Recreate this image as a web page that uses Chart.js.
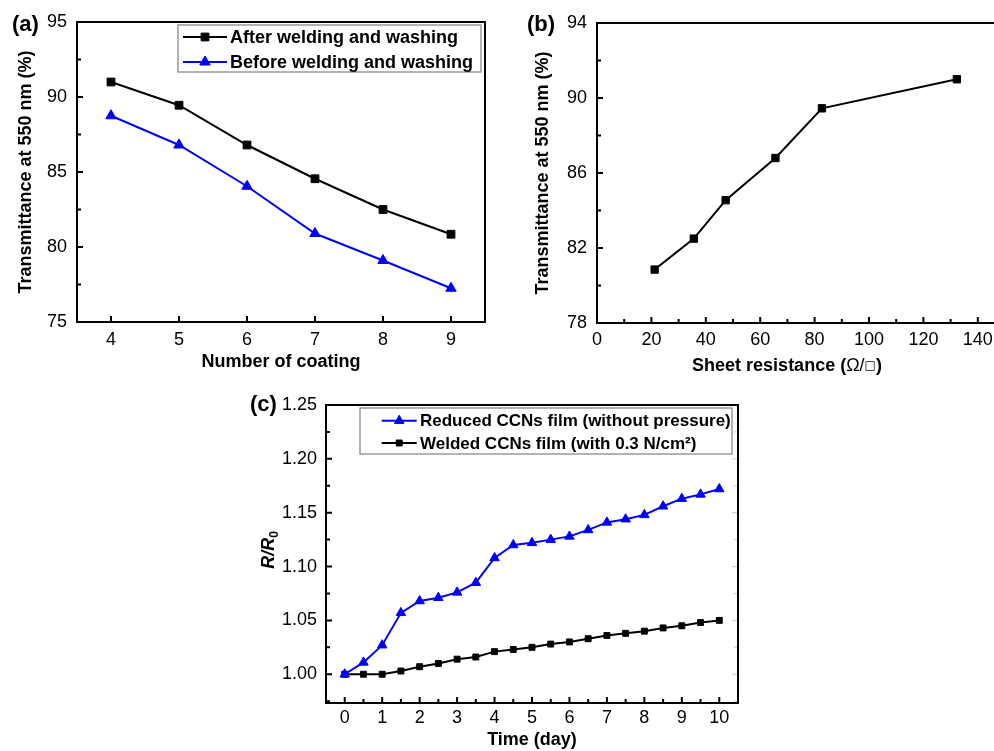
<!DOCTYPE html>
<html>
<head>
<meta charset="utf-8">
<script src="https://cdn.jsdelivr.net/npm/chart.js@4.4.1/dist/chart.umd.min.js"></script>
<style>
  html, body { margin: 0; padding: 0; background: #fff; }
  body { width: 994px; height: 751px; overflow: hidden; position: relative; }
  .panel { position: absolute; }
  #panelA { left: 0; top: 0; width: 500px; height: 380px; }
  #panelB { left: 500px; top: 0; width: 520px; height: 380px; }
  #panelC { left: 240px; top: 380px; width: 514px; height: 371px; }
</style>
</head>
<body>
<div class="panel" id="panelA"><canvas id="chartA"></canvas></div>
<div class="panel" id="panelB"><canvas id="chartB"></canvas></div>
<div class="panel" id="panelC"><canvas id="chartC"></canvas></div>
<script>
// ── Data ──────────────────────────────────────────────────────────────────
// (a) transmittance vs number of coatings
const coatings = [4, 5, 6, 7, 8, 9];
const afterWashing = [91.0, 89.45, 86.8, 84.55, 82.5, 80.85];
const beforeWashing = [88.75, 86.8, 84.05, 80.9, 79.1, 77.25];

// (b) transmittance vs sheet resistance
const sheetResistance = [21.2, 35.6, 47.3, 65.6, 82.7, 132.3];
const sheetTransmittance = [80.85, 82.5, 84.55, 86.8, 89.45, 91.0];

// (c) R/R0 over time
const days = [0, 0.5, 1, 1.5, 2, 2.5, 3, 3.5, 4, 4.5, 5, 5.5, 6, 6.5, 7, 7.5, 8, 8.5, 9, 9.5, 10];
const reducedFilm = [1.000, 1.011, 1.027, 1.057, 1.068, 1.071, 1.076, 1.085, 1.108, 1.120, 1.122,
                     1.125, 1.128, 1.134, 1.141, 1.144, 1.148, 1.156, 1.163, 1.167, 1.172];
const weldedFilm = [1.000, 1.000, 1.000, 1.003, 1.007, 1.010, 1.014, 1.016, 1.021, 1.023, 1.025,
                    1.028, 1.030, 1.033, 1.036, 1.038, 1.040, 1.043, 1.045, 1.048, 1.050];

// major tick values
const ticksAx = [4, 5, 6, 7, 8, 9];
const ticksAy = [75, 80, 85, 90, 95];
const ticksBx = [0, 20, 40, 60, 80, 100, 120, 140];
const ticksBy = [78, 82, 86, 90, 94];
const ticksCx = [0, 1, 2, 3, 4, 5, 6, 7, 8, 9, 10];
const ticksCy = [1.00, 1.05, 1.10, 1.15, 1.20, 1.25];

const FONT = "'Liberation Sans', Arial, sans-serif";
Chart.defaults.font.family = FONT;
Chart.defaults.color = "#000";

const pairs = (xs, ys) => xs.map((x, i) => ({ x: x, y: ys[i] }));

// ── Plugins ───────────────────────────────────────────────────────────────

// box frame with inward major/minor ticks
const innerTicks = {
    id: "innerTicks",
    afterDatasetsDraw(chart, args, o) {
        const { ctx, chartArea: a } = chart;
        const sx = chart.scales.x, sy = chart.scales.y;
        const marks = (scale, minor) => {
            const vals = scale.ticks.map((t) => t.value);
            const out = vals.map((v) => [v, o.major]);
            if (minor) {
                const step = vals[1] - vals[0];
                [vals[0] - step].concat(vals).forEach((v) => {
                    const m = v + step / 2;
                    if (m > scale.min && m < scale.max) out.push([m, o.minor]);
                });
            }
            return out;
        };
        ctx.save();
        ctx.strokeStyle = "#000";
        ctx.lineWidth = 2;
        ctx.beginPath();
        marks(sx, o.minorX).forEach(([v, len]) => {
            const px = sx.getPixelForValue(v);
            ctx.moveTo(px, a.bottom);
            ctx.lineTo(px, a.bottom - len);
        });
        marks(sy, o.minorY).forEach(([v, len]) => {
            const py = sy.getPixelForValue(v);
            ctx.moveTo(a.left, py);
            ctx.lineTo(a.left + len, py);
        });
        ctx.stroke();
        if (o.rightColor) {
            ctx.strokeStyle = o.rightColor;
            ctx.lineWidth = 1;
            ctx.beginPath();
            marks(sy, true).forEach(([v, len]) => {
                const py = sy.getPixelForValue(v);
                ctx.moveTo(a.right, py);
                ctx.lineTo(a.right - len, py);
            });
            ctx.stroke();
        }
        ctx.strokeStyle = "#000";
        ctx.lineWidth = 2;
        ctx.strokeRect(a.left, a.top, a.right - a.left, a.bottom - a.top);
        ctx.restore();
    },
};

// framed legend inside the plot
const boxLegend = {
    id: "boxLegend",
    afterDraw(chart, args, o) {
        if (!o.box) return;
        const ctx = chart.ctx;
        const [bx, by, bw, bh] = o.box;
        ctx.save();
        ctx.strokeStyle = "#808080";
        ctx.lineWidth = 1.2;
        ctx.strokeRect(bx, by, bw, bh);
        o.rows.forEach((cy, i) => {
            const ds = chart.data.datasets[i];
            ctx.strokeStyle = ds.borderColor;
            ctx.fillStyle = ds.pointBackgroundColor;
            ctx.lineWidth = ds.borderWidth;
            ctx.beginPath();
            ctx.moveTo(o.line[0], cy);
            ctx.lineTo(o.line[1], cy);
            ctx.stroke();
            ctx.lineWidth = 1;
            Chart.helpers.drawPoint(ctx, {
                pointStyle: ds.pointStyle, radius: ds.pointRadius, rotation: 0, borderWidth: 1,
            }, (o.line[0] + o.line[1]) / 2, cy);
            ctx.fillStyle = "#000";
            ctx.font = o.font;
            ctx.textAlign = "left";
            ctx.textBaseline = "middle";
            ctx.fillText(ds.label, o.textX, cy + 1);
        });
        ctx.restore();
    },
};

// free text: panel letters and hand-set axis titles
const captions = {
    id: "captions",
    afterDraw(chart, args, o) {
        const ctx = chart.ctx;
        (o.items || []).forEach((it) => {
            ctx.save();
            ctx.translate(it.x, it.y);
            if (it.rotate) ctx.rotate(it.rotate);
            ctx.fillStyle = "#000";
            ctx.textBaseline = "alphabetic";
            ctx.textAlign = "left";
            let w = 0;
            it.parts.forEach((p) => { ctx.font = p.font; w += ctx.measureText(p.text).width; });
            let cx = it.center ? -w / 2 : 0;
            it.parts.forEach((p) => {
                ctx.font = p.font;
                ctx.fillText(p.text, cx, p.dy || 0);
                cx += ctx.measureText(p.text).width;
            });
            ctx.restore();
        });
    },
};

function axis(min, max, values, extra) {
    return Object.assign({
        type: "linear",
        min: min,
        max: max,
        grid: { display: false, drawTicks: false },
        border: { display: false },
        afterBuildTicks: (s) => { s.ticks = values.map((v) => ({ value: v })); },
    }, extra);
}

const tickFont = { size: 18 };
const titleFont = { size: 18, weight: "bold" };
const label = (text) => ({ font: "bold 22px " + FONT, text: text });

const common = {
    responsive: true,
    maintainAspectRatio: false,
    animation: false,
    events: [],
};

// ── (a) Transmittance vs number of coating ───────────────────────────────
new Chart(document.getElementById("chartA"), {
    type: "line",
    data: {
        datasets: [
            {
                label: "After welding and washing",
                data: pairs(coatings, afterWashing),
                borderColor: "#000",
                backgroundColor: "#000",
                pointBackgroundColor: "#000",
                pointBorderColor: "#000",
                borderWidth: 2,
                pointStyle: "rect",
                pointRadius: 5.5,
                pointBorderWidth: 1,
            },
            {
                label: "Before welding and washing",
                data: pairs(coatings, beforeWashing),
                borderColor: "#0000ff",
                backgroundColor: "#0000ff",
                pointBackgroundColor: "#0000ff",
                pointBorderColor: "#0000ff",
                borderWidth: 2,
                pointStyle: "triangle",
                pointRadius: 6,
                pointBorderWidth: 1,
            },
        ],
    },
    options: Object.assign({}, common, {
        layout: { padding: { top: 22, right: 15, left: 0, bottom: 0 } },
        scales: {
            x: axis(3.5, 9.5, ticksAx, {
                ticks: { font: tickFont, padding: 7, autoSkip: false, maxRotation: 0 },
                title: { display: true, text: "Number of coating", font: titleFont, padding: { top: 0, bottom: 7 } },
                afterFit: (s) => { s.height = 58; },
            }),
            y: axis(75, 95, ticksAy, {
                ticks: { font: tickFont, padding: 10 },
                title: { display: true, text: "Transmittance at 550 nm (%)", font: titleFont, padding: { top: 15, bottom: 0 } },
                afterFit: (s) => { s.width = 77; },
            }),
        },
        plugins: {
            legend: { display: false },
            tooltip: { enabled: false },
            innerTicks: { major: 6, minor: 4, minorX: false, minorY: true },
            boxLegend: { box: [178, 25, 303, 47], rows: [37, 62], line: [183, 227], textX: 230, font: "bold 18px " + FONT },
            captions: { items: [{ x: 12, y: 31, parts: [label("(a)")] }] },
        },
    }),
    plugins: [innerTicks, boxLegend, captions],
});

// ── (b) Transmittance vs sheet resistance ────────────────────────────────
new Chart(document.getElementById("chartB"), {
    type: "line",
    data: {
        datasets: [
            {
                label: "Transmittance",
                data: pairs(sheetResistance, sheetTransmittance),
                borderColor: "#000",
                backgroundColor: "#000",
                pointBackgroundColor: "#000",
                pointBorderColor: "#000",
                borderWidth: 2,
                pointStyle: "rect",
                pointRadius: 5.2,
                pointBorderWidth: 1,
            },
        ],
    },
    options: Object.assign({}, common, {
        layout: { padding: { top: 23, right: 15, left: 0, bottom: 0 } },
        scales: {
            x: axis(0, 150, ticksBx, {
                ticks: { font: tickFont, padding: 6, autoSkip: false, maxRotation: 0 },
                title: { display: false },
                afterFit: (s) => { s.height = 57; },
            }),
            y: axis(78, 94, ticksBy, {
                ticks: { font: tickFont, padding: 10 },
                title: { display: true, text: "Transmittance at 550 nm (%)", font: titleFont, padding: { top: 32, bottom: 0 } },
                afterFit: (s) => { s.width = 97; },
            }),
        },
        plugins: {
            legend: { display: false },
            tooltip: { enabled: false },
            innerTicks: { major: 6, minor: 4, minorX: true, minorY: true },
            captions: {
                items: [
                    { x: 27, y: 31, parts: [label("(b)")] },
                    {
                        x: 287, y: 371, center: true,
                        parts: [
                            { font: "bold 18px " + FONT, text: "Sheet resistance (" },
                            { font: "18px " + FONT, text: "Ω/" },
                            { font: "12px 'DejaVu Sans', sans-serif", text: "□", dy: -2 },
                            { font: "bold 18px " + FONT, text: ")" },
                        ],
                    },
                ],
            },
        },
    }),
    plugins: [innerTicks, captions],
});

// ── (c) R/R0 over time ───────────────────────────────────────────────────
new Chart(document.getElementById("chartC"), {
    type: "line",
    data: {
        datasets: [
            {
                label: "Reduced CCNs film (without pressure)",
                data: pairs(days, reducedFilm),
                borderColor: "#0000ff",
                backgroundColor: "#0000ff",
                pointBackgroundColor: "#0000ff",
                pointBorderColor: "#0000ff",
                borderWidth: 2,
                pointStyle: "triangle",
                pointRadius: 5.5,
                pointBorderWidth: 1,
            },
            {
                label: "Welded CCNs film (with 0.3 N/cm²)",
                data: pairs(days, weldedFilm),
                borderColor: "#000",
                backgroundColor: "#000",
                pointBackgroundColor: "#000",
                pointBorderColor: "#000",
                borderWidth: 2,
                pointStyle: "rect",
                pointRadius: 4.2,
                pointBorderWidth: 1,
            },
        ],
    },
    options: Object.assign({}, common, {
        layout: { padding: { top: 25, right: 16, left: 0, bottom: 0 } },
        scales: {
            x: axis(-0.5, 10.5, ticksCx, {
                ticks: { font: tickFont, padding: 4, autoSkip: false, maxRotation: 0 },
                title: { display: true, text: "Time (day)", font: titleFont, padding: { top: 0, bottom: 0 } },
                afterFit: (s) => { s.height = 48; },
            }),
            y: axis(0.9733, 1.25, ticksCy, {
                ticks: { font: tickFont, padding: 9, callback: (v) => v.toFixed(2) },
                title: { display: false },
                afterFit: (s) => { s.width = 86; },
            }),
        },
        plugins: {
            legend: { display: false },
            tooltip: { enabled: false },
            innerTicks: { major: 6, minor: 4, minorX: true, minorY: true, rightColor: "#c8c8c8" },
            boxLegend: { box: [120, 28, 372, 46], rows: [40.7, 63], line: [141.7, 176.7], textX: 180, font: "bold 17px " + FONT },
            captions: {
                items: [
                    { x: 10, y: 31, parts: [label("(c)")] },
                    {
                        x: 27, y: 170, rotate: -Math.PI / 2, center: true,
                        parts: [
                            { font: "italic bold 18px " + FONT, text: "R/R", dy: 6.5 },
                            { font: "bold 12px " + FONT, text: "0", dy: 10.5 },
                        ],
                    },
                ],
            },
        },
    }),
    plugins: [innerTicks, boxLegend, captions],
});
</script>
</body>
</html>
